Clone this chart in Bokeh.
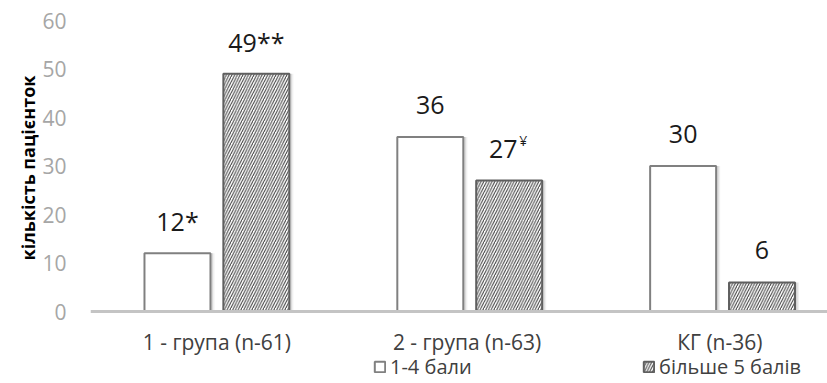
from bokeh.plotting import figure
from bokeh.models import (Range1d, FixedTicker, Legend, LegendItem,
                          ColumnDataSource, Span, Title)
from bokeh.embed import file_html
from bokeh.resources import INLINE
from bokeh.core.properties import value

# ---- data ----
groups = ["1 - група (n-61)", "2 - група  (n-63)", "КГ  (n-36)"]
series_names = ["1-4 бали", "більше 5 балів"]
low_scores = [12, 36, 30]          # 1-4 бали
high_scores = [49, 27, 6]          # більше 5 балів
low_marks = ["*", "", ""]
high_marks = ["**", "", ""]
high_sup = ["", "¥", ""]
y_ticks = [0, 10, 20, 30, 40, 50, 60]
y_title = "кількість пацієнток"

# ---- layout constants ----
FONT = "Open Sans"
BAR_W = 0.261
OFFSET = 0.156
PX_PER_UNIT = 4.85      # vertical scale of the value axis
BELOW_PX = 72           # room under the zero line for labels and legend
ABOVE_PX = 20           # room above the 60 line
xs = list(range(len(groups)))
x_low = [x - OFFSET for x in xs]
x_high = [x + OFFSET for x in xs]

y_max = max(y_ticks)
p = figure(
    width=827, height=383,
    x_range=Range1d(-0.5, 2.415),
    y_range=Range1d(-BELOW_PX / PX_PER_UNIT, y_max + ABOVE_PX / PX_PER_UNIT),
    x_axis_location=None,
    output_backend="svg", toolbar_location=None,
    min_border_left=90, min_border_right=0,
    min_border_top=0, min_border_bottom=0,
)
p.outline_line_color = None
p.background_fill_color = "white"
p.border_fill_color = "white"
p.xgrid.visible = False
p.ygrid.visible = False

# soft drop shadow behind every bar
for dx, alpha in ((0.010, 0.10), (0.016, 0.06)):
    p.vbar(x=[x + dx for x in x_low], top=low_scores, width=BAR_W, bottom=0,
           fill_color="black", fill_alpha=alpha, line_color=None)
    p.vbar(x=[x + dx for x in x_high], top=high_scores, width=BAR_W, bottom=0,
           fill_color="black", fill_alpha=alpha, line_color=None)

r_low = p.vbar(x=x_low, top=low_scores, width=BAR_W, bottom=0,
               fill_color="white", line_color="#808080", line_width=2)
r_high = p.vbar(x=x_high, top=high_scores, width=BAR_W, bottom=0,
                fill_color="white", line_color="#5f5f5f", line_width=2,
                hatch_pattern="/", hatch_color="#3a3a3a",
                hatch_scale=5.5, hatch_weight=1.0)

# zero line of the category axis
p.add_layout(Span(location=0, dimension="width",
                  line_color="#c4c4c4", line_width=3))

# category names under the zero line
cat_src = ColumnDataSource(dict(x=xs, y=[0] * len(xs), t=groups))
p.text(x="x", y="y", text="t", source=cat_src, text_align="center",
       text_baseline="middle", y_offset=30, text_font=value(FONT),
       text_font_size="21px", text_color="#404040")

# value labels above the bars
low_src = ColumnDataSource(dict(
    x=x_low, y=low_scores,
    t=[f"{v}{m}" for v, m in zip(low_scores, low_marks)]))
high_src = ColumnDataSource(dict(
    x=x_high, y=high_scores,
    t=[f"{v}{m}" for v, m in zip(high_scores, high_marks)],
    dx=[-6 if s else 0 for s in high_sup]))
sup_src = ColumnDataSource(dict(x=x_high, y=high_scores, t=high_sup))

p.text(x="x", y="y", text="t", source=low_src, text_align="center",
       text_baseline="middle", y_offset=-32, text_font=value(FONT),
       text_font_size="25px", text_color="#1a1a1a")
p.text(x="x", y="y", text="t", source=high_src, x_offset="dx",
       text_align="center", text_baseline="middle", y_offset=-32,
       text_font=value(FONT), text_font_size="25px", text_color="#1a1a1a")
p.text(x="x", y="y", text="t", source=sup_src, x_offset=10,
       text_align="left", text_baseline="middle", y_offset=-40,
       text_font=value(FONT), text_font_size="14px", text_color="#1a1a1a")

# y axis: grey numbers only
p.yaxis.ticker = FixedTicker(ticks=y_ticks)
p.yaxis.axis_line_color = None
p.yaxis.major_tick_line_color = None
p.yaxis.minor_tick_line_color = None
p.yaxis.major_label_standoff = 18
p.yaxis.major_label_text_font = FONT
p.yaxis.major_label_text_font_size = "21px"
p.yaxis.major_label_text_color = "#a6a6a6"

# rotated axis title, anchored from the bottom of the left panel
p.add_layout(Title(text=y_title, align="left", offset=123,
                   text_font=FONT, text_font_size="18px",
                   text_font_style="bold", text_color="#000000",
                   standoff=0), "left")

# legend row at the bottom of the frame
legend = Legend(
    items=[LegendItem(label=series_names[0], renderers=[r_low]),
           LegendItem(label=series_names[1], renderers=[r_high])],
    location=(283, 3), orientation="horizontal",
    margin=0, padding=0, spacing=152, label_width=100,
    border_line_alpha=0, background_fill_alpha=0,
    glyph_width=13, glyph_height=13, label_standoff=4,
    label_text_font=FONT, label_text_font_size="20px",
    label_text_color="#404040")
p.add_layout(legend, "center")

open("out.html", "w").write(file_html(p, INLINE))
